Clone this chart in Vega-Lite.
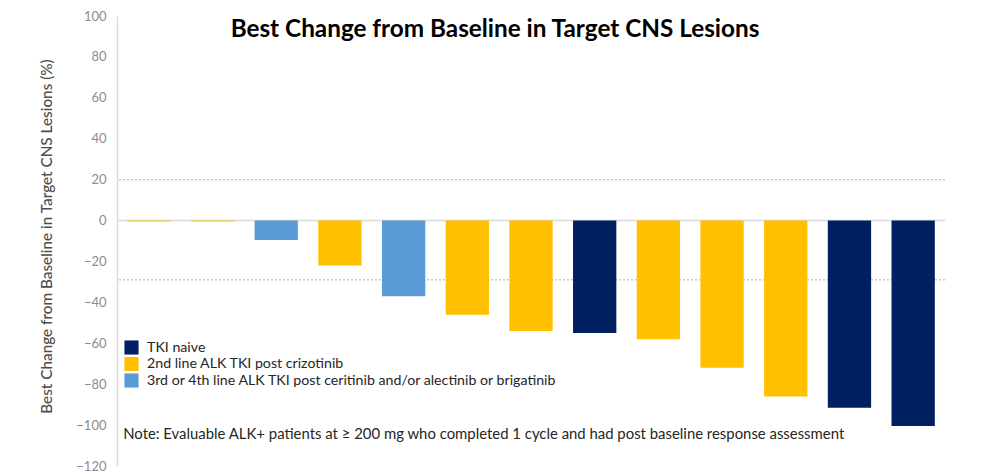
{
  "$schema": "https://vega.github.io/schema/vega-lite/v6.json",
  "autosize": "none",
  "width": 828,
  "height": 450,
  "padding": {"left": 117, "top": 16, "right": 55, "bottom": 6},
  "background": "white",
  "config": {"view": {"stroke": null}, "font": "Lato"},
  "title": {
    "text": "Best Change from Baseline in Target CNS Lesions",
    "font": "Lato",
    "fontSize": 24.3,
    "fontWeight": "bold",
    "color": "#000000",
    "anchor": "middle",
    "dx": -36,
    "dy": 33,
    "baseline": "alphabetic",
    "offset": -18
  },
  "datasets": {
    "bars": [
      {"id": "1", "change": -0.5, "group": "2nd line ALK TKI post crizotinib"},
      {"id": "2", "change": -0.5, "group": "2nd line ALK TKI post crizotinib"},
      {"id": "3", "change": -9.5, "group": "3rd or 4th line ALK TKI post ceritinib and/or alectinib or brigatinib"},
      {"id": "4", "change": -22, "group": "2nd line ALK TKI post crizotinib"},
      {"id": "5", "change": -37, "group": "3rd or 4th line ALK TKI post ceritinib and/or alectinib or brigatinib"},
      {"id": "6", "change": -46, "group": "2nd line ALK TKI post crizotinib"},
      {"id": "7", "change": -54, "group": "2nd line ALK TKI post crizotinib"},
      {"id": "8", "change": -55, "group": "TKI naive"},
      {"id": "9", "change": -58, "group": "2nd line ALK TKI post crizotinib"},
      {"id": "10", "change": -72, "group": "2nd line ALK TKI post crizotinib"},
      {"id": "11", "change": -86, "group": "2nd line ALK TKI post crizotinib"},
      {"id": "12", "change": -91.5, "group": "TKI naive"},
      {"id": "13", "change": -100.5, "group": "TKI naive"}
    ],
    "refs": [{"v": 20}, {"v": -29}],
    "zero": [{"v": 0}],
    "note": [{"id": "1", "y": -105, "text": "Note: Evaluable ALK+ patients at ≥ 200 mg who completed 1 cycle and had post baseline response assessment"}]
  },
  "layer": [
    {
      "data": {"name": "refs"},
      "mark": {"type": "rule", "color": "#b0b0b0", "strokeWidth": 1, "strokeDash": [2, 2]},
      "encoding": {"y": {"field": "v", "type": "quantitative"}}
    },
    {
      "data": {"name": "zero"},
      "mark": {"type": "rule", "color": "#d9d9d9", "strokeWidth": 1.5},
      "encoding": {"y": {"field": "v", "type": "quantitative"}}
    },
    {
      "data": {"name": "bars"},
      "mark": {"type": "bar"},
      "encoding": {
        "x": {
          "field": "id", "type": "nominal", "sort": null,
          "scale": {"paddingInner": 0.32, "paddingOuter": 0.16},
          "axis": null
        },
        "y": {
          "field": "change", "type": "quantitative",
          "scale": {"domain": [-120, 100], "nice": false, "zero": false},
          "axis": {
            "values": [-120, -100, -80, -60, -40, -20, 0, 20, 40, 60, 80, 100],
            "grid": false,
            "ticks": false,
            "domainColor": "#d9d9d9",
            "domainWidth": 1.5,
            "labelColor": "#8c8c8c",
            "labelFont": "Lato",
            "labelFontSize": 13,
            "labelPadding": 11,
            "title": "Best Change from Baseline in Target CNS Lesions (%)",
            "titleFont": "Lato",
            "titleFontSize": 15.3,
            "titleFontWeight": 500,
            "titleColor": "#4d4d4d",
            "titlePadding": 21,
            "titleY": 220
          }
        },
        "color": {
          "field": "group", "type": "nominal",
          "scale": {
            "domain": ["TKI naive", "2nd line ALK TKI post crizotinib", "3rd or 4th line ALK TKI post ceritinib and/or alectinib or brigatinib"],
            "range": ["#002060", "#FFC000", "#5B9BD5"]
          },
          "legend": {
            "title": null,
            "orient": "none",
            "legendX": 7,
            "legendY": 324,
            "symbolType": "square",
            "symbolSize": 200,
            "symbolStrokeWidth": 0,
            "labelFont": "Lato",
            "labelFontSize": 14.2,
            "labelColor": "#262626",
            "labelLimit": 600,
            "rowPadding": 1.5,
            "labelOffset": 8
          }
        }
      }
    },
    {
      "data": {"name": "note"},
      "mark": {"type": "text", "align": "left", "baseline": "middle", "dx": -4, "font": "Lato", "fontSize": 14.9, "color": "#262626"},
      "encoding": {
        "x": {"field": "id", "type": "nominal", "sort": null, "bandPosition": 0},
        "y": {"field": "y", "type": "quantitative"},
        "text": {"field": "text"}
      }
    }
  ]
}
